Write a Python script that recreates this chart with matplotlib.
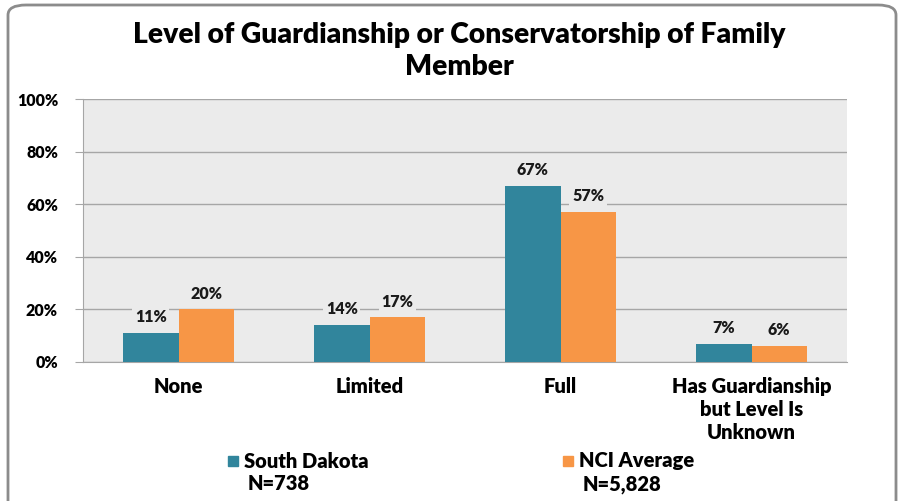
import numpy as np
from matplotlib import pyplot as plt
from matplotlib.patches import FancyBboxPatch, Rectangle

categories = ["None", "Limited", "Full", "Has Guardianship\nbut Level Is\nUnknown"]
south_dakota = [11, 14, 67, 7]
nci_average = [20, 17, 57, 6]
series_names = ["South Dakota", "NCI Average"]
series_n = ["N=738", "N=5,828"]
yticks = [0, 20, 40, 60, 80, 100]

teal = "#31859C"
orange = "#F79646"
plot_bg = "#EBEBEB"

plt.rcParams['font.family'] = ['Lato', 'DejaVu Sans']
plt.rcParams['font.weight'] = 'bold'

fig = plt.figure(figsize=(9, 5.01), dpi=100)
ax = fig.add_axes([83 / 900, 1 - 362 / 501, 764 / 900, 263 / 501])

# rounded outer frame
frame = FancyBboxPatch((8 / 900, -0.02), 888 / 900, 1 - 5 / 501 + 0.02,
                       boxstyle="round,pad=0,rounding_size=0.02",
                       transform=fig.transFigure, facecolor="none",
                       edgecolor="#8C8C8C", lw=2, zorder=0)
fig.patches.append(frame)

x = np.arange(len(categories))
w = 0.29
b1 = ax.bar(x - w / 2, south_dakota, w, color=teal, zorder=3)
b2 = ax.bar(x + w / 2, nci_average, w, color=orange, zorder=3)

for bars, vals in ((b1, south_dakota), (b2, nci_average)):
    for r, v in zip(bars, vals):
        ax.text(r.get_x() + r.get_width() / 2, v + 6, f"{v}%", ha="center",
                va="center", fontsize=11.5, fontweight="heavy", color="#1A1A1A",
                zorder=4, bbox=dict(facecolor=plot_bg, edgecolor="none", pad=2))

ax.set_facecolor(plot_bg)
ax.set_xlim(-0.5, len(categories) - 0.5)
ax.set_ylim(0, 100)
ax.set_yticks(yticks)
ax.set_yticklabels([f"{t}%" for t in yticks], fontsize=11.5, fontweight="heavy")
ax.yaxis.grid(True, color="#A6A6A6", lw=1, zorder=0)
ax.set_xticks(x)
ax.set_xticklabels(categories, fontsize=14.5, fontweight="heavy", linespacing=1.25)
ax.tick_params(axis="x", length=0, pad=11)
ax.tick_params(axis="y", length=6, color="#A6A6A6", pad=12)
for s in ("top", "right"):
    ax.spines[s].set_visible(False)
ax.spines["left"].set_color("#A6A6A6")
ax.spines["bottom"].set_color("#A6A6A6")

fig.text(459 / 900, 1 - 51 / 501, "Level of Guardianship or Conservatorship of Family\nMember",
         ha="center", va="center", fontsize=20.3, fontweight="heavy", linespacing=1.3)

# legend
for i, (name, n, c) in enumerate(zip(series_names, series_n, (teal, orange))):
    lx = (228 if i == 0 else 563) / 900
    fig.patches.append(Rectangle((lx, 1 - 466 / 501), 10 / 900, 10 / 501,
                                 transform=fig.transFigure, color=c))
    fig.text(lx + 16 / 900, 1 - 461 / 501, name, ha="left", va="center",
             fontsize=14.5, fontweight="heavy")
    fig.text(lx + 20 / 900, 1 - 484 / 501, n, ha="left", va="center",
             fontsize=14.5, fontweight="heavy")

fig.savefig("out.png", dpi=100)
